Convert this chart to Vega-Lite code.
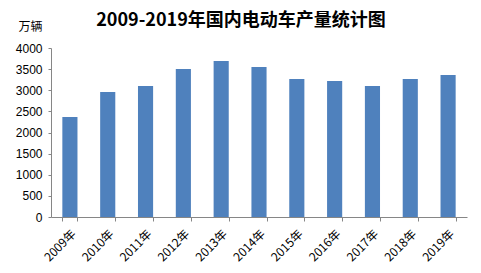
{
  "$schema": "https://vega.github.io/schema/vega-lite/v6.json",
  "autosize": {"type": "none"},
  "width": 416,
  "height": 169,
  "padding": {"left": 51, "top": 48, "right": 14, "bottom": 56},
  "background": "white",
  "title": {
    "text": "2009-2019年国内电动车产量统计图",
    "font": "Noto Sans CJK SC",
    "fontSize": 18,
    "fontWeight": "bold",
    "color": "#000000",
    "anchor": "middle",
    "baseline": "middle",
    "dx": -18,
    "offset": -19
  },
  "data": {
    "values": [
      {"year": "2009年", "value": 2369},
      {"year": "2010年", "value": 2960},
      {"year": "2011年", "value": 3100},
      {"year": "2012年", "value": 3503},
      {"year": "2013年", "value": 3695},
      {"year": "2014年", "value": 3550},
      {"year": "2015年", "value": 3266},
      {"year": "2016年", "value": 3219},
      {"year": "2017年", "value": 3100},
      {"year": "2018年", "value": 3266},
      {"year": "2019年", "value": 3361}
    ]
  },
  "mark": {"type": "bar", "color": "#4F81BD"},
  "encoding": {
    "x": {
      "field": "year",
      "type": "nominal",
      "sort": null,
      "scale": {"paddingInner": 0.6, "paddingOuter": 0.3},
      "axis": {
        "title": null,
        "tickBand": "extent",
        "labelAngle": -45,
        "labelAlign": "right",
        "labelBaseline": "top",
        "labelFont": "Noto Sans CJK SC",
        "labelFontSize": 12,
        "labelColor": "#000000",
        "labelPadding": 7,
        "tickSize": 4,
        "tickColor": "#868686",
        "domainColor": "#868686",
        "grid": false
      }
    },
    "y": {
      "field": "value",
      "type": "quantitative",
      "scale": {"domain": [0, 4000], "nice": false},
      "axis": {
        "values": [0, 500, 1000, 1500, 2000, 2500, 3000, 3500, 4000],
        "format": "d",
        "title": "万辆",
        "titleAngle": 0,
        "titleFont": "Noto Sans CJK SC",
        "titleFontSize": 12,
        "titleFontWeight": "normal",
        "titleColor": "#000000",
        "titleAlign": "center",
        "titleBaseline": "middle",
        "titleX": -21,
        "titleY": -22,
        "labelFont": "Liberation Sans",
        "labelFontSize": 12,
        "labelColor": "#000000",
        "labelPadding": 6,
        "tickSize": 3,
        "tickColor": "#868686",
        "domainColor": "#868686",
        "grid": false
      }
    }
  },
  "config": {"view": {"stroke": null}}
}
